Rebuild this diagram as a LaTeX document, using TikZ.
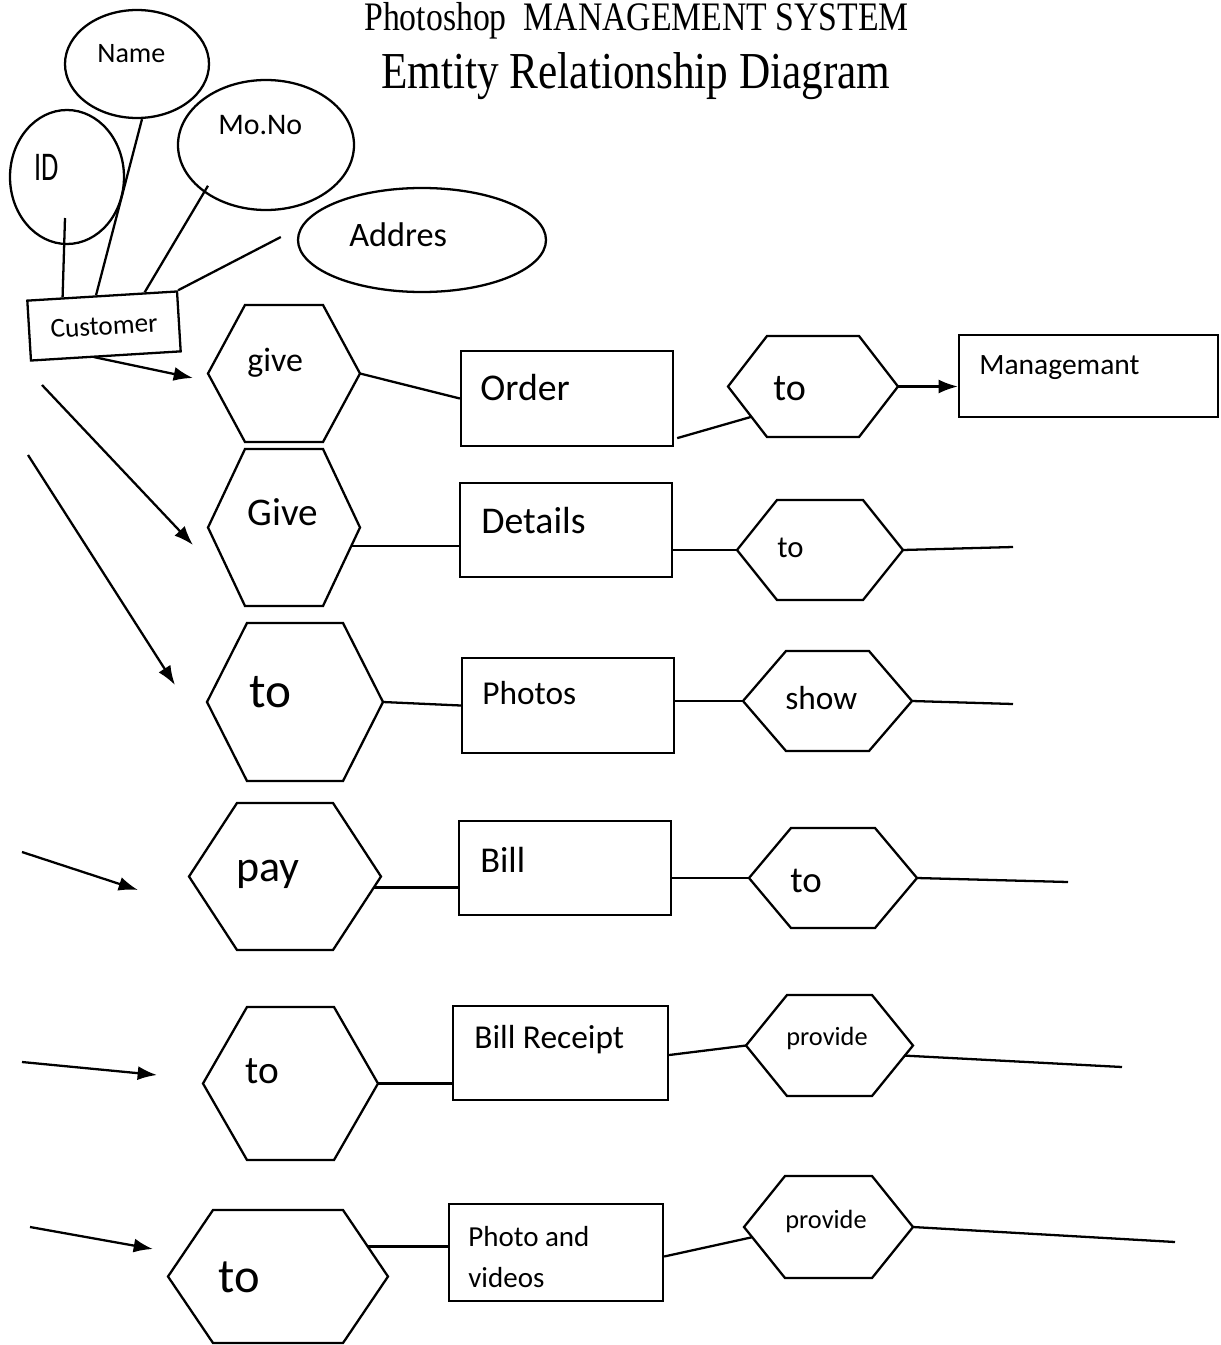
\documentclass[tikz,border=0pt]{standalone}
\usepackage{fontspec}
\setmainfont{Liberation Serif}
\newfontfamily\carl{Carlito}
\usetikzlibrary{arrows.meta,calc,shapes.geometric}
\newcommand\fs[1]{\fontsize{#1}{#1}\selectfont}
% hexagon: name, left, top, right, bottom, slant
\newcommand\hexa[6]{%
  \coordinate (#1-l) at (#2,{(#3+#5)/2});
  \coordinate (#1-tl) at ({#2+#6},#3);
  \coordinate (#1-tr) at ({#4-#6},#3);
  \coordinate (#1-r) at (#4,{(#3+#5)/2});
  \coordinate (#1-br) at ({#4-#6},#5);
  \coordinate (#1-bl) at ({#2+#6},#5);
  \draw[shp] (#1-l) -- (#1-tl) -- (#1-tr) -- (#1-r) -- (#1-br) -- (#1-bl) -- cycle;}
% box: name, x1, y1, x2, y2
\newcommand\ebox[5]{%
  \node[box, minimum width={(#4-#2)*0.02cm}, minimum height={(#5-#3)*0.02cm}] (#1) at ({(#2+#4)/2},{(#3+#5)/2}) {};}
% label: name, x, y (baseline west), size, text
\newcommand\lbl[5]{\node[txt, font={\carl\fs{#4}}] (#1) at (#2,#3) {#5};}
\begin{document}
\begin{tikzpicture}[x=0.02cm,y=-0.02cm,
  shp/.style={draw=black, line width=1.3pt, line join=miter},
  box/.style={draw=black, line width=1.3pt, inner sep=0pt},
  ell/.style={ellipse, draw=black, line width=1.3pt, inner sep=0pt},
  txt/.style={inner sep=0pt, anchor=base west},
  con/.style={draw=black, line width=1.3pt},
  arr/.style={draw=black, line width=1.3pt, -{Latex[length=11pt,width=8pt]}}]
\fill[white] (0,0) rectangle (1220,1345);
\useasboundingbox (0,0) rectangle (1220,1345);

% titles
\node[txt, font=\fs{19.2}] (title1) at (364,31) {\scalebox{1}[1.2]{Photoshop\ \ MANAGEMENT SYSTEM}};
\node[txt, font=\fs{24.6}] (title2) at (381,89) {\scalebox{1}[1.2]{Emtity Relationship Diagram}};

% attributes
\node[ell, minimum width={144*0.02cm}, minimum height={108*0.02cm}] (name) at (137,64) {};
\node[ell, minimum width={114*0.02cm}, minimum height={134*0.02cm}] (id) at (67,177) {};
\node[ell, minimum width={176*0.02cm}, minimum height={130*0.02cm}] (mono) at (266,145) {};
\node[ell, minimum width={248*0.02cm}, minimum height={104*0.02cm}] (addr) at (422,240) {};
\lbl{namet}{97}{63}{16}{Name}
\node[txt, font={\carl\fs{16}}] (idt) at (34,180) {\scalebox{1}[1.45]{ID}};
\lbl{monot}{218}{134}{17}{Mo.No}
\lbl{addrt}{349}{246}{19.5}{Addres}

% customer
\node[draw=black, line width=1.3pt, rotate=3.5, minimum width={150*0.02cm}, minimum height={60*0.02cm}, inner sep=0pt, font={\carl\fs{15.5}}] (cust) at (104,326) {Customer};
\draw[con] ($(id.center)+(-2,41)$) -- ($(cust.north west)!0.24!(cust.north east)$);
\draw[con] ($(name.south)+(5,0)$) -- ($(cust.north west)!0.46!(cust.north east)$);
\draw[con] ($(mono.south west)+(5,-6)$) -- ($(cust.north west)!0.78!(cust.north east)$);
\draw[con] ($(addr.west)+(-16,-3)$) -- (cust.north east);

% hexagons
\hexa{give1}{208}{305}{360}{442}{37}
\hexa{give2}{208}{449}{360}{606}{37}
\hexa{to3}{207}{623}{383}{781}{40}
\hexa{pay}{189}{803}{381}{950}{48}
\hexa{to5}{203}{1007}{378}{1160}{44}
\hexa{to6}{168}{1210}{388}{1343}{45}
\hexa{to1}{728}{336}{898}{437}{39}
\hexa{to2}{737}{500}{903}{600}{40}
\hexa{show}{743}{651}{912}{751}{43}
\hexa{to4}{749}{828}{917}{928}{42}
\hexa{prov1}{746}{995}{913}{1096}{41}
\hexa{prov2}{744}{1176}{913}{1278}{41}

\lbl{give1t}{247}{371}{19.3}{give}
\lbl{give2t}{247}{525}{22.3}{Give}
\lbl{to3t}{249}{707}{28}{to}
\lbl{payt}{236}{881}{25}{pay}
\lbl{to5t}{245}{1083}{22.4}{to}
\lbl{to6t}{218}{1292}{27.6}{to}
\lbl{to1t}{773}{400}{21.7}{to}
\lbl{to2t}{777}{557}{17.5}{to}
\lbl{showt}{785}{709}{19}{show}
\lbl{to4t}{790}{892}{21}{to}
\lbl{prov1t}{786}{1045}{15}{provide}
\lbl{prov2t}{785}{1228}{15}{provide}

% entity boxes
\ebox{order}{461}{351}{673}{446}
\ebox{details}{460}{483}{672}{577}
\ebox{photos}{462}{658}{674}{753}
\ebox{bill}{459}{821}{671}{915}
\ebox{receipt}{453}{1006}{668}{1100}
\ebox{pv}{449}{1204}{663}{1301}
\ebox{mgmt}{959}{335}{1218}{417}

\lbl{ordert}{480}{400}{21.5}{Order}
\lbl{detailst}{481}{533}{21.5}{Details}
\lbl{photost}{482}{704}{19}{Photos}
\lbl{billt}{480}{872}{20.7}{Bill}
\lbl{receiptt}{474}{1048}{19}{Bill Receipt}
\lbl{pvt1}{468}{1246}{16.5}{Photo and}
\lbl{pvt2}{468}{1287}{16.5}{videos}
\lbl{mgmtt}{979}{374}{16.8}{Managemant}

% free ends
\coordinate (s2) at (42,385);
\coordinate (s3) at (28,455);
\coordinate (s4) at (22,852);
\coordinate (s5) at (22,1062);
\coordinate (s6) at (30,1227);
\coordinate (h1) at (193,378);
\coordinate (h2) at (193,545);
\coordinate (h3) at (175,685);
\coordinate (h4) at (138,890);
\coordinate (h5) at (157,1075);
\coordinate (h6) at (153,1249);
\coordinate (e2) at (1013,547);
\coordinate (e3) at (1013,704);
\coordinate (e4) at (1068,882);
\coordinate (e5) at (1122,1067);
\coordinate (e6) at (1175,1242);

% incoming arrows
\draw[arr] ($(cust.south)+(-12,0)$) -- (h1);
\draw[arr] (s2) -- (h2);
\draw[arr] (s3) -- (h3);
\draw[arr] (s4) -- (h4);
\draw[arr] (s5) -- (h5);
\draw[arr] (s6) -- (h6);

% row connectors
\draw[con] (give1-r) -- (order.west);
\coordinate (c2) at ($(give2-r)!0.24!(give2-br)$);
\draw[con] (c2) -- (c2 -| details.west);
\draw[con] (to3-r) -- (photos.west);
\coordinate (c4) at ($(pay-r)!0.15!(pay-br)$);
\draw[con] (c4) -- (c4 -| bill.west);
\draw[con] (to5-r) -- (to5-r -| receipt.west);
\coordinate (c6) at ($(to6-r)!0.45!(to6-tr)$);
\draw[con] (c6) -- (c6 -| pv.west);

\draw[con] ($(order.south east)+(3,-9)$) -- ($(to1-l)!0.6!(to1-bl)$);
\draw[arr] (to1-r) -- (to1-r -| mgmt.west);
\draw[con] (to2-l -| details.east) -- (to2-l);
\draw[con] (to2-r) -- (e2);
\draw[con] (show-l -| photos.east) -- (show-l);
\draw[con] (show-r) -- (e3);
\draw[con] (to4-l -| bill.east) -- (to4-l);
\draw[con] (to4-r) -- (e4);
\draw[con] ($(receipt.east)+(0,2)$) -- (prov1-l);
\draw[con] ($(prov1-r)!0.2!(prov1-br)$) -- (e5);
\draw[con] ($(pv.east)+(0,4)$) -- ($(prov2-l)!0.2!(prov2-bl)$);
\draw[con] (prov2-r) -- (e6);
\end{tikzpicture}
\end{document}
